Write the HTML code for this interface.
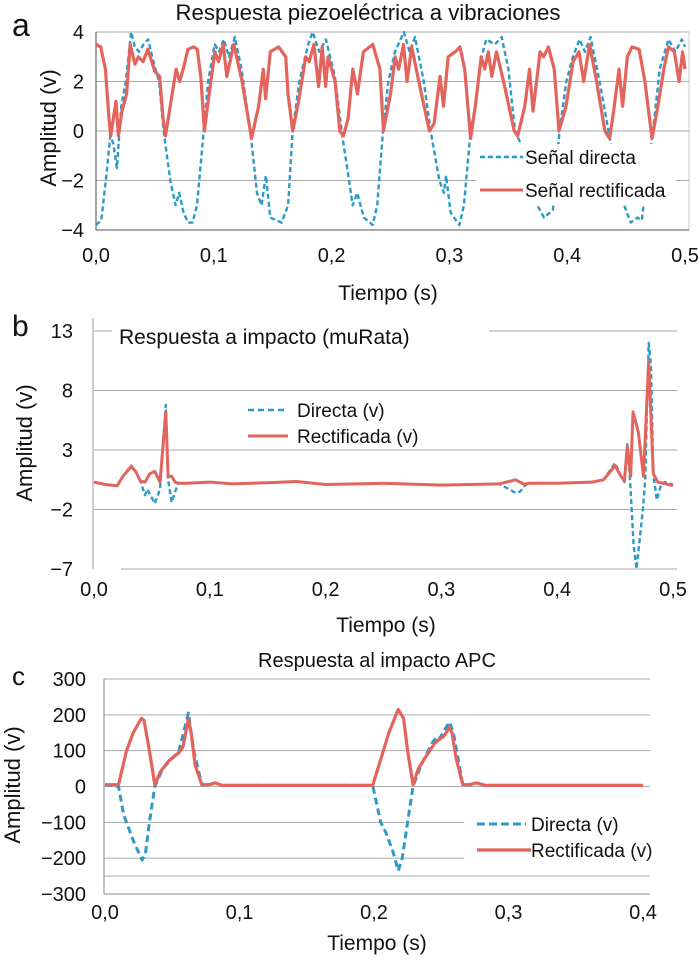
<!DOCTYPE html>
<html><head><meta charset="utf-8"><style>
html,body{margin:0;padding:0;background:#fff;}
svg{display:block;font-family:"Liberation Sans Narrow","Liberation Sans",sans-serif;}
</style></head><body>
<svg id="fig" width="700" height="962" viewBox="0 0 700 962"></svg>
<script>
// ---- Panel a data ----
const aTimesDirect=[0,.0045,.0083,.0121,.0147,.0177,.0215,.0253,.0298,.0329,.0366,.0404,.0442,.0498,.0536,.0574,.0631,.0676,.0706,.0744,.0782,.0819,.0857,.0914,.0952,.1008,.1046,.1084,.1129,.1178,.1235,.131,.1367,.1405,.1442,.148,.1575,.1631,.1669,.1726,.1801,.1839,.1896,.1952,.2028,.2085,.2179,.2217,.2273,.2349,.2387,.2436,.2481,.2538,.2613,.2662,.2708,.2783,.284,.2915,.2953,.2972,.301,.3085,.3123,.318,.3218,.3274,.3312,.3387,.3444,.3501,.3557,.3595,.369,.3746,.3803,.3879,.3935,.3992,.4048,.4105,.415,.4199,.4275,.4369,.4407,.4445,.4483,.4539,.4596,.4634,.4671,.4728,.4785,.486,.4917,.4974,.5];
const aDirect=[-3.8,-3.6,-2,-0.2,-0.5,-1.5,1,2,4,3.4,3.2,3.5,3.7,2.6,2,0,-2,-3,-2.5,-3.3,-3.7,-3.7,-3,0,2,3.5,3.2,3.7,3,3.8,2.5,0,-2.5,-3,-1.8,-3.5,-3.7,-3,0,2,3.5,4,3.2,3.7,2.2,0,-3,-2.5,-3.5,-3.8,-3,0,2,3.2,4,3.2,3.8,2,0,-2,-2.5,-1.8,-3.3,-3.8,-3,0,1,3,3.7,3.5,3.8,2.5,0,-0.4,-1.5,-3,-3.5,-3.2,0,2,3,3.7,3.2,3.8,2,-0.5,-1,-2.5,-3,-3.7,-3.5,-3.6,-2,0,2.5,3.7,3.2,3.7,3.4];
const aTimesRect=[0,.004,.008,.011,.0125,.017,.019,.022,.026,.029,.033,.036,.040,.044,.050,.054,.057,.059,.063,.068,.071,.074,.078,.083,.086,.089,.092,.096,.101,.104,.108,.111,.117,.124,.131,.132,.138,.142,.144,.148,.155,.161,.163,.167,.172,.178,.181,.185,.189,.192,.195,.197,.203,.207,.21,.214,.218,.222,.227,.235,.241,.244,.250,.254,.257,.261,.264,.268,.274,.283,.287,.292,.295,.299,.305,.309,.313,.318,.322,.327,.330,.333,.336,.34,.346,.355,.358,.364,.368,.371,.377,.380,.384,.389,.393,.399,.405,.41,.414,.419,.425,.432,.436,.44,.444,.447,.451,.455,.461,.466,.472,.477,.482,.486,.491,.495,.498,.5];
const aRect=[3.5,3.4,2.5,0.5,-0.2,1.2,-0.2,0.8,1.5,3.5,2.7,3,2.8,3.3,2.4,2.2,0.5,-0.2,1,2.5,2,2.5,3.3,3.4,3.3,2.2,0,1.5,3.2,2.8,3.5,2.2,3.5,2,0,-0.3,1,2.5,1.3,3.2,3.4,3,1.5,0,1.2,3,2.8,3.5,1.8,3.4,1.8,3,2,0,-0.2,0.5,2.5,1.5,3.2,3.5,2.5,0,1.5,3,2.5,3.5,2,3.4,2,0,0.3,2.2,1,3,3.2,3.4,2.5,-0.3,1,3,2.5,3.2,2.2,3.2,2,0,-0.2,1,2.5,0.8,3.2,3,3.4,2.5,0,1,2.8,3.2,2,3.5,2,0,-0.3,1,2.5,1,3,3.4,3.3,2,-0.3,1,2.5,3.4,3.2,2,3.2,2.5];
const aYTicks=[4,2,0,-2,-4];
const aYTickLabels=["4","2","0","\u22122","\u22124"];
const aXTicks=[0,0.1,0.2,0.3,0.4,0.5];
const aXTickLabels=["0,0","0,1","0,2","0,3","0,4","0,5"];

// ---- Panel b data ----
const bTimesDirect=[0,.01,.02,.025,.032,.036,.040,.044,.046,.0525,.057,.062,.064,.067,.070,.073,.08,.1,.12,.15,.175,.2,.25,.3,.35,.364,.368,.372,.375,.4,.43,.44,.45,.455,.458,.4605,.463,.466,.4685,.474,.476,.479,.481,.483,.486,.488,.49,.493,.5];
const bDirect=[0.3,0.1,0,0.8,1.7,1.2,0.4,-0.8,-0.3,-1.5,-0.3,6.8,0.5,-1.4,-0.5,0.2,0.2,0.3,0.15,0.25,0.35,0.1,0.2,0.05,0.15,-0.6,-0.5,0,0.2,0.2,0.3,0.5,1.9,0.8,0.3,3.5,0.3,-5,-7,-2,0.5,12,10,1,-1.2,-0.5,0.2,0.3,0.1];
const bTimesRect=[0,.01,.02,.025,.032,.036,.040,.044,.048,.0525,.057,.062,.064,.067,.070,.073,.08,.1,.12,.15,.175,.2,.25,.3,.35,.364,.368,.372,.375,.4,.43,.44,.45,.455,.458,.4605,.4635,.4655,.470,.4745,.479,.483,.487,.5];
const bRect=[0.3,0.1,0,0.8,1.6,1.2,0.4,0.3,1,1.2,0.3,6.2,0.8,0.8,0.3,0.2,0.2,0.3,0.15,0.25,0.35,0.1,0.2,0.05,0.15,0.5,0.3,0.1,0.2,0.2,0.3,0.5,1.7,0.8,0.4,3.3,0.8,6.2,4.5,0.8,10.5,1,0.3,0];
const bYTicks=[13,8,3,-2,-7];
const bYTickLabels=["13","8","3","\u22122","\u22127"];
const bXTicks=[0,0.1,0.2,0.3,0.4,0.5];
const bXTickLabels=["0,0","0,1","0,2","0,3","0,4","0,5"];

// ---- Panel c data ----
const cTimesDirect=[0,.01,.014,.021,.0275,.030,.033,.037,.043,.055,.062,.066,.072,.077,.082,.087,.199,.205,.209,.214,.218,.221,.225,.229,.235,.243,.247,.249,.256,.259,.266,.271,.276,.283,.4];
const cDirect=[5,0,-80,-150,-205,-190,-100,0,50,100,205,100,5,5,10,3,3,-100,-130,-180,-235,-200,-100,0,60,120,140,135,180,150,5,5,10,3,3];
const cTimesRect=[0,.01,.016,.021,.024,.027,.029,.033,.037,.041,.047,.055,.058,.062,.064,.067,.072,.077,.082,.087,.199,.207,.211,.218,.222,.225,.229,.233,.238,.245,.248,.252,.256,.258,.261,.266,.271,.276,.283,.4];
const cRect=[5,5,100,150,170,190,185,100,5,40,70,95,110,190,150,60,5,5,10,3,3,100,150,215,190,100,5,50,80,120,130,140,165,150,80,5,5,10,3,3];
const cYTicks=[300,200,100,0,-100,-200,-300];
const cYTickLabels=["300","200","100","0","\u2212100","\u2212200","\u2212300"];
const cXTicks=[0,0.1,0.2,0.3,0.4];
const cXTickLabels=["0,0","0,1","0,2","0,3","0,4"];

const NS="http://www.w3.org/2000/svg";
const svg=document.getElementById('fig');
const BLUE="#2b9ac6", RED="#e3645c";
function mk(tag,attrs,parent,txt){const e=document.createElementNS(NS,tag);for(const k in attrs)e.setAttribute(k,attrs[k]);if(txt!==undefined)e.textContent=txt;(parent||svg).appendChild(e);return e;}
function lin(d0,d1,r0,r1){return v=>r0+(v-d0)/(d1-d0)*(r1-r0);}
function pathD(ts,vs,x,y){return ts.map((t,i)=>(i?'L':'M')+x(t).toFixed(1)+','+y(vs[i]).toFixed(1)).join(' ');}

// ===== Panel a =====
(function(){
 const g=mk('g',{});
 
 
 const x=lin(0,0.5,96,685), y=lin(4,-4,32,230);
 const frame=mk('rect',{x:96,y:32,width:593,height:198,fill:'none',stroke:'#c8c8c8','stroke-width':1},g);
 
 
 aYTicks.forEach((v,i)=>{
  const gl=mk('line',{x1:96,x2:689,y1:y(v),y2:y(v),stroke:(v===-4?'#555':'#aaa'),'stroke-width':1},g);
  
  
  const tl=mk('text',{x:84,y:y(v)+7,'text-anchor':'end','font-size':20,fill:'#111'},g,aYTickLabels[i]);
  
  
 });
 const ax=mk('line',{x1:96,x2:96,y1:32,y2:230,stroke:'#666','stroke-width':1.2},g);
 
 
 aXTicks.forEach((v,i)=>{
  const tl=mk('text',{x:x(v),y:262,'text-anchor':'middle','font-size':20,fill:'#111'},g,aXTickLabels[i]);
  
  
 });
 const pd=mk('path',{d:pathD(aTimesDirect,aDirect,x,y),fill:'none',stroke:BLUE,'stroke-width':2.4,'stroke-dasharray':'5,3','stroke-linejoin':'round'},g);
 
 
 const pr=mk('path',{d:pathD(aTimesRect,aRect,x,y),fill:'none',stroke:RED,'stroke-width':3.2,'stroke-linejoin':'round'},g);
 
 
 const lb=mk('rect',{x:476,y:144,width:200,height:60,fill:'#fff'},g);
 
 
 const l1=mk('line',{x1:480,x2:523,y1:157,y2:157,stroke:BLUE,'stroke-width':2.4,'stroke-dasharray':'5,3'},g);
 
 
 const t1=mk('text',{x:525,y:164,'font-size':19,fill:'#111'},g,'Señal directa');
 
 
 const l2=mk('line',{x1:480,x2:523,y1:190,y2:190,stroke:RED,'stroke-width':3},g);
 
 
 const t2=mk('text',{x:525,y:197,'font-size':19,fill:'#111'},g,'Señal rectificada');
 
 
 const tt=mk('text',{x:368,y:20,'text-anchor':'middle','font-size':22,textLength:385,lengthAdjust:'spacingAndGlyphs',fill:'#111'},g,'Respuesta piezoeléctrica a vibraciones');
 
 
 const pl=mk('text',{x:12,y:36,'font-size':32,fill:'#111'},g,'a');
 
 
 const yt=mk('text',{x:0,y:0,'text-anchor':'middle','font-size':22,fill:'#111',transform:'translate(56,128) rotate(-90)'},g,'Amplitud (v)');
 
 
 const xt=mk('text',{x:388,y:300,'text-anchor':'middle','font-size':21,fill:'#111'},g,'Tiempo (s)');
 
 
})();

// ===== Panel b =====
(function(){
 const g=mk('g',{});
 
 
 const x=lin(0,0.5,94,673), y=lin(13,-7,331,569);
 bYTicks.forEach((v,i)=>{
  let x1=94,x2=677;
  if(v===13){
   const s=mk('line',{x1:94,x2:112,y1:y(v),y2:y(v),stroke:'#aaa','stroke-width':1},g);
   
   
   x1=489;
  }
  if(v===-7){x1=121;}
  const gl=mk('line',{x1:x1,x2:x2,y1:y(v),y2:y(v),stroke:'#aaa','stroke-width':1},g);
  
  
  const tl=mk('text',{x:73,y:y(v)+7,'text-anchor':'end','font-size':20,fill:'#111'},g,bYTickLabels[i]);
  
  
 });
 const ax=mk('line',{x1:93,x2:93,y1:318,y2:569,stroke:'#999','stroke-width':1},g);
 
 
 bXTicks.forEach((v,i)=>{
  const tl=mk('text',{x:x(v),y:596,'text-anchor':'middle','font-size':20,fill:'#111'},g,bXTickLabels[i]);
  
  
 });
 const pd=mk('path',{d:pathD(bTimesDirect,bDirect,x,y),fill:'none',stroke:BLUE,'stroke-width':2.4,'stroke-dasharray':'5,3','stroke-linejoin':'round'},g);
 
 
 const pr=mk('path',{d:pathD(bTimesRect,bRect,x,y),fill:'none',stroke:RED,'stroke-width':3,'stroke-linejoin':'round'},g);
 
 
 const l1=mk('line',{x1:248,x2:288,y1:410,y2:410,stroke:BLUE,'stroke-width':2.4,'stroke-dasharray':'6,4'},g);
 
 
 const t1=mk('text',{x:297,y:417,'font-size':19,fill:'#111'},g,'Directa (v)');
 
 
 const l2=mk('line',{x1:248,x2:288,y1:436,y2:436,stroke:RED,'stroke-width':3},g);
 
 
 const t2=mk('text',{x:297,y:443,'font-size':19,fill:'#111'},g,'Rectificada (v)');
 
 
 const tt=mk('text',{x:119,y:344,'font-size':21,fill:'#111'},g,'Respuesta a impacto (muRata)');
 
 
 const pl=mk('text',{x:12,y:336,'font-size':30,fill:'#111'},g,'b');
 
 
 const yt=mk('text',{x:0,y:0,'text-anchor':'middle','font-size':22,fill:'#111',transform:'translate(32,443) rotate(-90)'},g,'Amplitud (v)');
 
 
 const xt=mk('text',{x:386,y:632,'text-anchor':'middle','font-size':21,fill:'#111'},g,'Tiempo (s)');
 
 
})();

// ===== Panel c =====
(function(){
 const g=mk('g',{});
 
 
 const x=lin(0,0.4,105,643), y=lin(300,-300,679,894);
 cYTicks.forEach((v,i)=>{
  const x2=(v===-100||v===-200)?464:650;
  const gl=mk('line',{x1:104,x2:x2,y1:y(v),y2:y(v),stroke:(v===-300?'#888':'#aaa'),'stroke-width':1},g);
  
  
  const tl=mk('text',{x:86,y:y(v)+7,'text-anchor':'end','font-size':20,fill:'#111'},g,cYTickLabels[i]);
  
  
 });
 const extra=mk('line',{x1:104,x2:650,y1:y(-250),y2:y(-250),stroke:'#aaa','stroke-width':1},g);
 
 
 const ax=mk('line',{x1:104,x2:104,y1:679,y2:894,stroke:'#888','stroke-width':1},g);
 
 
 cXTicks.forEach((v,i)=>{
  const tl=mk('text',{x:x(v),y:919,'text-anchor':'middle','font-size':20,fill:'#111'},g,cXTickLabels[i]);
  
  
 });
 const pd=mk('path',{d:pathD(cTimesDirect,cDirect,x,y),fill:'none',stroke:BLUE,'stroke-width':3,'stroke-dasharray':'7,4','stroke-linejoin':'round'},g);
 
 
 const pr=mk('path',{d:pathD(cTimesRect,cRect,x,y),fill:'none',stroke:RED,'stroke-width':3.2,'stroke-linejoin':'round'},g);
 
 
 const l1=mk('line',{x1:477,x2:526,y1:824,y2:824,stroke:BLUE,'stroke-width':3,'stroke-dasharray':'8,4'},g);
 
 
 const t1=mk('text',{x:531,y:831,'font-size':19,fill:'#111'},g,'Directa (v)');
 
 
 const l2=mk('line',{x1:477,x2:531,y1:850,y2:850,stroke:RED,'stroke-width':3.2},g);
 
 
 const t2=mk('text',{x:531,y:857,'font-size':19,fill:'#111'},g,'Rectificada (v)');
 
 
 const tt=mk('text',{x:377,y:667,'text-anchor':'middle','font-size':20,fill:'#111'},g,'Respuesta al impacto APC');
 
 
 const pl=mk('text',{x:12,y:685,'font-size':26,fill:'#111'},g,'c');
 
 
 const yt=mk('text',{x:0,y:0,'text-anchor':'middle','font-size':22,fill:'#111',transform:'translate(20,785) rotate(-90)'},g,'Amplitud (v)');
 
 
 const xt=mk('text',{x:377,y:950,'text-anchor':'middle','font-size':21,fill:'#111'},g,'Tiempo (s)');
 
 
})();
</script>
</body></html>
